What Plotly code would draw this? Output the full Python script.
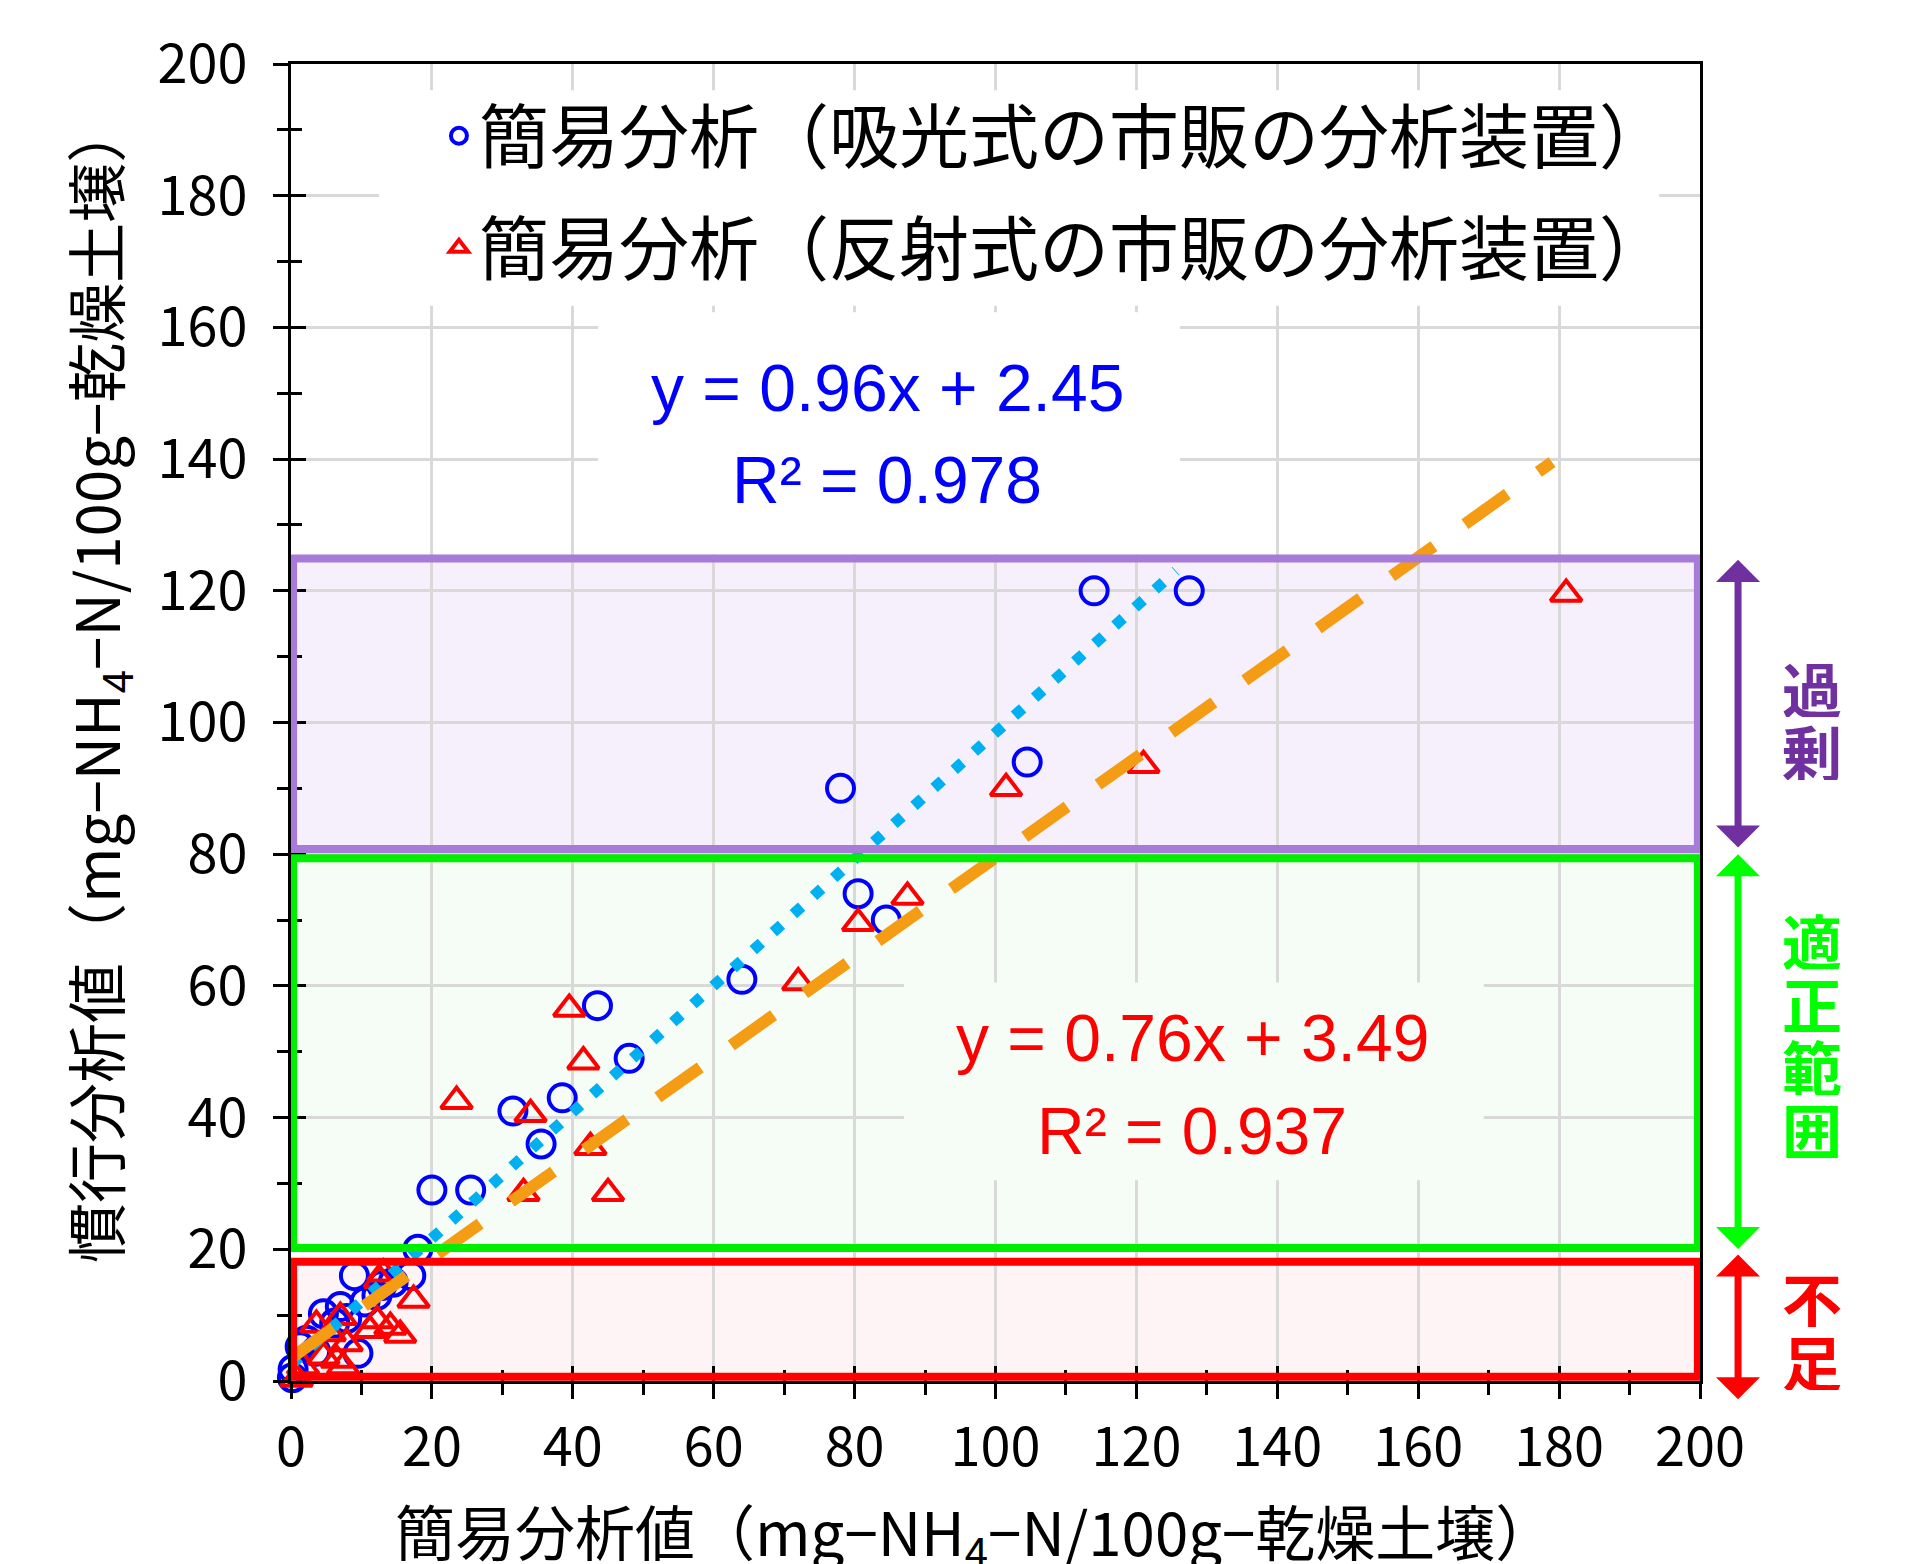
import plotly.graph_objects as go

# ---------------- data ----------------
series_names = ["簡易分析（吸光式の市販の分析装置）", "簡易分析（反射式の市販の分析装置）"]

blue_x = [127.5, 114, 104.5, 78, 80.5, 84.5, 64, 43.5, 48, 38.5, 31.5, 35.5, 20, 25.5,
          18, 17, 9, 12.9, 12.2, 7.0, 4.6, 7.9, 6.2, 2.2, 1.3, 9.5, 3.5, 0.3, 0.2, 14.5, 10.5]
blue_y = [120, 120, 94, 90, 74, 70, 61, 57, 49, 43, 41, 36, 29, 29,
          20, 16, 16, 14.5, 13.0, 11.3, 10.2, 9.5, 8.8, 6.2, 5.2, 4.2, 4.5, 1.8, 0.5, 15, 12]

red_x = [181, 121, 101.5, 87.5, 80.5, 72, 39.5, 41.5, 23.5, 34, 42.5, 33, 45,
         13.1, 12.6, 17.4, 12.2, 14.1, 15.5, 7.0, 3.6, 5.5, 7.9, 4.6, 6.5, 7.4, 1.7, 0.8, 11.2]
red_y = [119.5, 93.5, 90, 73.5, 69.5, 60.5, 56.5, 48.5, 42.5, 40.5, 35.5, 28.5, 28.5,
         16.3, 15.3, 12.3, 9.2, 8.2, 7.0, 9.7, 8.5, 7.2, 5.7, 3.7, 3.2, 2.2, 2.2, 0.3, 7.7]

fit_slope = [0.96, 0.76]
fit_intercept = [2.45, 3.49]
fit_r2 = [0.978, 0.937]
fit_xmin = [0, 0]
fit_xmax = [125.6, 179]

zone_names = ["過剰", "適正範囲", "不足"]
zone_low = [80.8, 20.2, 0.65]
zone_high = [124.9, 79.4, 18.1]
arrow_low = [80.8, 19.8, -3.0]
arrow_high = [124.7, 80.0, 19.2]

axis_ticks = [0, 20, 40, 60, 80, 100, 120, 140, 160, 180, 200]
x_title = "簡易分析値（mg−NH<sub>4</sub>−N/100g−乾燥土壌）"
y_title = "慣行分析値（mg−NH<sub>4</sub>−N/100g−乾燥土壌）"

# ---------------- styles ----------------
FONT_JP = "Noto Sans CJK JP"
FONT_NUM = "Liberation Sans, Arial, sans-serif"
FONT_TICK = "Noto Sans CJK JP"
marker_colors = ["#0000FF", "#FF0000"]
marker_symbols = ["circle-open", "triangle-up-open"]
marker_sizes = [27, 27]
fit_colors = ["#00B0F0", "#F49C14"]
fit_widths = [11, 12]
fit_dashes = ["11px,16px", "52px,38px"]
eq_colors = ["#0000FF", "#FF0000"]
eq_pos = [(84.6, 150.8, 136.9), (127.9, 52.1, 37.9)]
eq_boxes = [dict(x0=43.6, x1=126.2, y0=125.5, y1=162.3, fill="#FFFFFF"),
            dict(x0=87.0, x1=169.3, y0=30.5, y1=60.5, fill="#F6FDF6")]
legend_box = dict(x0=12.5, x1=194.2, y0=163.3, y1=196.0)
zone_line_colors = ["#A97BD9", "#00EE00", "#FF0000"]
zone_fill_colors = ["#F5F0FB", "#F6FDF6", "#FEF3F5"]
zone_text_colors = ["#7030A0", "#00FF00", "#FF0000"]
zone_text_y = [100.6, 52.8, 7.9]
ARROW_X = 1.027
ZONE_TEXT_X = 1.0795
CHAR_PITCH = 63

fig = go.Figure()

xs = [blue_x, red_x]
ys = [blue_y, red_y]
for i in range(2):
    fig.add_trace(go.Scatter(
        x=xs[i], y=ys[i], mode="markers", name=series_names[i],
        legendgroup=f"g{i}",
        marker=dict(symbol=marker_symbols[i], size=marker_sizes[i], color=marker_colors[i],
                    line=dict(color=marker_colors[i], width=4)),
        cliponaxis=False,
    ))

for i in range(2):
    fx = [fit_xmin[i], fit_xmax[i]]
    fy = [fit_slope[i] * v + fit_intercept[i] for v in fx]
    fig.add_trace(go.Scatter(
        x=fx, y=fy, mode="lines", showlegend=False, xaxis="x2", yaxis="y2",
        line=dict(color=fit_colors[i], width=fit_widths[i], dash=fit_dashes[i]),
        hoverinfo="skip",
    ))

shapes = []
for i in range(3):
    shapes.append(dict(type="rect", xref="x", yref="y", x0=0.3, x1=199.7,
                       y0=zone_low[i], y1=zone_high[i], fillcolor=zone_fill_colors[i],
                       line=dict(width=0), layer="below"))
shapes.append(dict(type="rect", xref="x", yref="y", x0=legend_box["x0"], x1=legend_box["x1"],
                   y0=legend_box["y0"], y1=legend_box["y1"], fillcolor="#FFFFFF",
                   line=dict(width=0), layer="between"))
for b in eq_boxes:
    shapes.append(dict(type="rect", xref="x", yref="y", x0=b["x0"], x1=b["x1"],
                       y0=b["y0"], y1=b["y1"], fillcolor=b["fill"],
                       line=dict(width=0), layer="between"))
for i in range(3):
    shapes.append(dict(type="rect", xref="x", yref="y", x0=0.3, x1=199.7,
                       y0=zone_low[i], y1=zone_high[i], fillcolor="rgba(0,0,0,0)",
                       line=dict(width=8, color=zone_line_colors[i]), layer="above"))

annotations = []
for i in range(2):
    ex, ey1, ey2 = eq_pos[i]
    annotations.append(dict(x=ex, y=ey1, xref="x", yref="y", showarrow=False,
                            xanchor="center", yanchor="middle",
                            text=f"y = {fit_slope[i]:.2f}x + {fit_intercept[i]:.2f}",
                            font=dict(family=FONT_NUM, size=66, color=eq_colors[i])))
    annotations.append(dict(x=ex, y=ey2, xref="x", yref="y", showarrow=False,
                            xanchor="center", yanchor="middle",
                            text=f"R² = {fit_r2[i]:.3f}",
                            font=dict(family=FONT_NUM, size=66, color=eq_colors[i])))

for i in range(3):
    annotations.append(dict(
        x=ARROW_X, xref="paper", y=arrow_high[i], yref="y",
        ax=0, axref="pixel", ay=arrow_low[i], ayref="y",
        text="", showarrow=True, arrowside="end+start",
        arrowhead=1, startarrowhead=1, arrowsize=1.05, startarrowsize=1.05,
        arrowwidth=7, arrowcolor=zone_text_colors[i], standoff=0, startstandoff=0,
    ))
    chars = list(zone_names[i])
    n = len(chars)
    for j, ch in enumerate(chars):
        annotations.append(dict(
            x=ZONE_TEXT_X, xref="paper", y=zone_text_y[i], yref="y",
            xanchor="center", yanchor="middle", height=60, valign="middle",
            yshift=((n - 1) / 2 - j) * CHAR_PITCH, showarrow=False, text=ch,
            font=dict(family=FONT_JP, size=60, color=zone_text_colors[i], weight="bold"),
        ))

annotations.append(dict(x=0.4855, y=-0.1155, xref="paper", yref="paper", showarrow=False,
                        xanchor="center", yanchor="middle", height=64, valign="middle",
                        text=x_title, font=dict(family=FONT_JP, size=60, color="black")))
annotations.append(dict(x=-0.137, y=0.530, xref="paper", yref="paper", showarrow=False,
                        xanchor="center", yanchor="middle",
                        text=y_title, textangle=-90,
                        font=dict(family=FONT_JP, size=60, color="black")))

axis_common = dict(range=[0, 200], tickvals=axis_ticks, ticktext=[str(t) for t in axis_ticks])

fig.update_layout(
    width=1915, height=1564,
    margin=dict(l=283, r=223, t=53, b=191),
    paper_bgcolor="white", plot_bgcolor="white",
    showlegend=True,
    legend=dict(x=0.105, y=0.985, xanchor="left", yanchor="top",
                bgcolor="rgba(0,0,0,0)", font=dict(family=FONT_JP, size=70, color="black"),
                tracegroupgap=18, itemsizing="trace"),
    xaxis=dict(**axis_common, showline=True, linecolor="black", linewidth=2.5, mirror=True,
               ticks="outside", ticklen=15, tickwidth=2.5, tickcolor="black",
               showgrid=True, gridcolor="#D9D9D9", gridwidth=2.5, zeroline=False,
               tickfont=dict(family=FONT_TICK, size=54, color="black"), ticklabelstandoff=2,
               minor=dict(dtick=10, ticks="outside", ticklen=11, tickwidth=2.5,
                          tickcolor="black", showgrid=False)),
    yaxis=dict(**axis_common, showline=True, linecolor="black", linewidth=2.5, mirror=True,
               ticks="outside", ticklen=15, tickwidth=2.5, tickcolor="black",
               showgrid=True, gridcolor="#D9D9D9", gridwidth=2.5, zeroline=False,
               tickfont=dict(family=FONT_TICK, size=54, color="black"), ticklabelstandoff=15,
               minor=dict(dtick=10, ticks="outside", ticklen=11, tickwidth=2.5,
                          tickcolor="black", showgrid=False)),
    xaxis2=dict(range=[0, 200], overlaying="x", anchor="y2", side="bottom",
                tickvals=axis_ticks, ticks="inside", ticklen=15, tickwidth=2.5, tickcolor="black",
                showticklabels=False, showgrid=False, showline=False, zeroline=False,
                minor=dict(dtick=10, ticks="inside", ticklen=11, tickwidth=2.5,
                           tickcolor="black", showgrid=False)),
    yaxis2=dict(range=[0, 200], overlaying="y", anchor="x2", side="left",
                tickvals=axis_ticks, ticks="inside", ticklen=15, tickwidth=2.5, tickcolor="black",
                showticklabels=False, showgrid=False, showline=False, zeroline=False,
                minor=dict(dtick=10, ticks="inside", ticklen=11, tickwidth=2.5,
                           tickcolor="black", showgrid=False)),
    shapes=shapes,
    annotations=annotations,
)

fig.write_html("out.html")
